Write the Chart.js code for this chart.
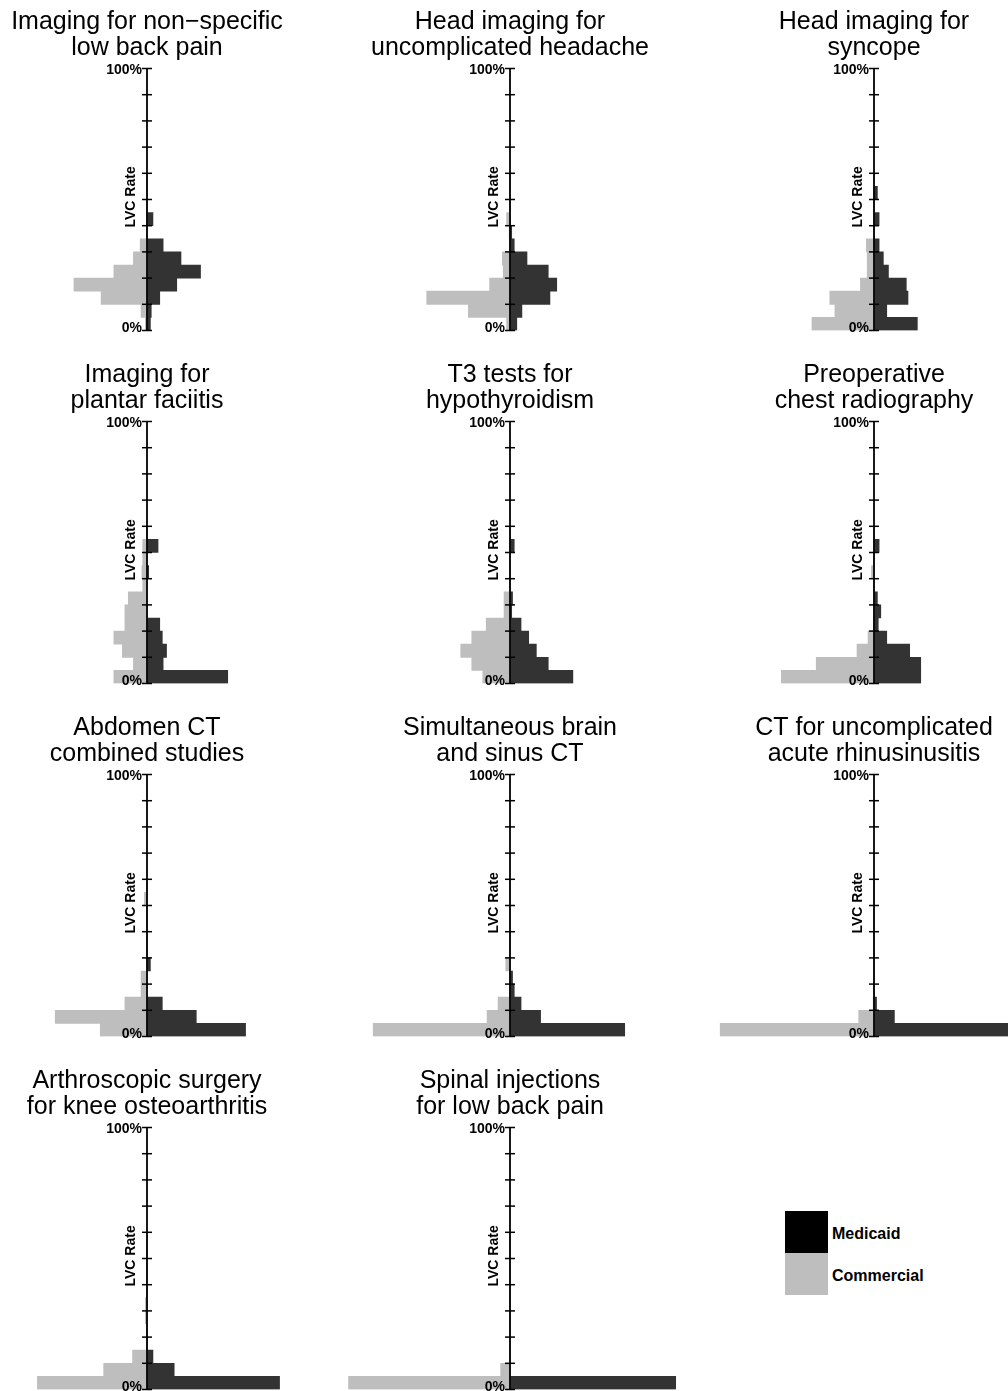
<!DOCTYPE html>
<html>
<head>
<meta charset="utf-8">
<script src="https://cdn.jsdelivr.net/npm/chart.js@4.4.1/dist/chart.umd.min.js"></script>
<style>
  html, body { margin: 0; padding: 0; background: #ffffff; }
  body { width: 1008px; height: 1391px; position: relative; overflow: hidden;
         font-family: 'Liberation Sans', Arial, sans-serif; }
  .panel { position: absolute; width: 362px; height: 350px; }
  .key { position: absolute; left: 785px; width: 43px; height: 42px; }
  .keylabel { position: absolute; left: 832px; font: bold 16px 'Liberation Sans', Arial, sans-serif;
              color: #000; line-height: 20px; white-space: nowrap; }
</style>
</head>
<body>
<div class="key" style="top:1211px;background:#000000;"></div>
<div class="key" style="top:1253px;background:#bebebe;"></div>
<div class="keylabel" style="top:1224px;">Medicaid</div>
<div class="keylabel" style="top:1266px;">Commercial</div>

<script>
// Lower edge of each 5% LVC-rate bin
const binFloor = [0, 5, 10, 15, 20, 25, 30, 35, 40, 45, 50, 55];
// Ticks on the LVC-rate axis
const rateTicks = [0, 10, 20, 30, 40, 50, 60, 70, 80, 90, 100];
const rateTickLabels = { 0: '0%', 100: '100%' };

// Share of providers (%) in each bin, Medicaid vs. Commercial
const lowBackImagingMedicaid   = [2, 2.5, 7.5, 17.5, 31.5, 20, 9.5, 0, 3.5];
const lowBackImagingCommercial = [1, 3.5, 27, 43, 19.5, 8, 4];
const headacheMedicaid         = [4, 7, 23.5, 27.5, 22.5, 10, 2.5, 1];
const headacheCommercial       = [2, 24.5, 49, 12, 4, 4.5, 0, 0.5, 2];
const syncopeMedicaid          = [25.5, 7.5, 20, 19, 8.5, 5.5, 3, 0, 3, 0, 2];
const syncopeCommercial        = [36.5, 23, 26, 8, 4, 4, 4.5];
const plantarMedicaid          = [47.5, 9.5, 11.5, 9, 7.5, 0, 0, 0, 1, 0, 6.5];
const plantarCommercial        = [19.5, 8, 14.5, 19.5, 13, 13, 11, 2.5, 3, 2.5, 2.5];
const t3Medicaid               = [37, 22.5, 15.5, 11, 6.5, 1, 1.5, 0, 0, 0, 2.5];
const t3Commercial             = [16, 22.5, 29, 22.5, 14, 3.5, 3.5];
const chestXrayMedicaid        = [27.5, 27.5, 21, 7.5, 2.5, 4, 2, 0, 0, 0, 3];
const chestXrayCommercial      = [54.5, 34, 10, 3.5, 0, 0, 0, 0, 1.5];
const abdomenCtMedicaid        = [58, 29, 9, 0, 0, 2];
const abdomenCtCommercial      = [27.5, 54, 13, 3.5, 3.5, 0, 0, 0, 0, 0, 1.5];
const brainSinusMedicaid       = [67.5, 18, 6.5, 2.5, 1.5];
const brainSinusCommercial     = [80.5, 13.5, 7, 0, 0, 2.5];
const sinusitisCtMedicaid      = [85.5, 12, 1.5];
const sinusitisCtCommercial    = [90.5, 9, 0.5];
const kneeScopeMedicaid        = [78, 16, 3.5];
const kneeScopeCommercial      = [64.5, 25.5, 8.5, 0, 0, 1, 1];
const spinalInjMedicaid        = [97.5];
const spinalInjCommercial      = [95, 5.5];

const panelTitles = [
  ['Imaging for non\u2212specific', 'low back pain'],
  ['Head imaging for', 'uncomplicated headache'],
  ['Head imaging for', 'syncope'],
  ['Imaging for', 'plantar faciitis'],
  ['T3 tests for', 'hypothyroidism'],
  ['Preoperative', 'chest radiography'],
  ['Abdomen CT', 'combined studies'],
  ['Simultaneous brain', 'and sinus CT'],
  ['CT for uncomplicated', 'acute rhinusinusitis'],
  ['Arthroscopic surgery', 'for knee osteoarthritis'],
  ['Spinal injections', 'for low back pain']
];
const panelMedicaid = [lowBackImagingMedicaid, headacheMedicaid, syncopeMedicaid, plantarMedicaid,
  t3Medicaid, chestXrayMedicaid, abdomenCtMedicaid, brainSinusMedicaid, sinusitisCtMedicaid,
  kneeScopeMedicaid, spinalInjMedicaid];
const panelCommercial = [lowBackImagingCommercial, headacheCommercial, syncopeCommercial, plantarCommercial,
  t3Commercial, chestXrayCommercial, abdomenCtCommercial, brainSinusCommercial, sinusitisCtCommercial,
  kneeScopeCommercial, spinalInjCommercial];

// Grid placement of the small multiples
const colLeft = [-34, 329, 693];
const rowTop = [0, 353, 706, 1059];
const FONT = "'Liberation Sans', Arial, sans-serif";

// Vertical rate axis drawn along x = 0, with crossing ticks
const lvcAxis = {
  id: 'lvcAxis',
  afterDatasetsDraw(chart) {
    const { ctx, scales: { x, y } } = chart;
    const x0 = x.getPixelForValue(0);
    ctx.save();
    ctx.strokeStyle = '#000';
    ctx.lineWidth = 1.8;
    ctx.beginPath();
    ctx.moveTo(x0, y.getPixelForValue(100));
    ctx.lineTo(x0, y.getPixelForValue(0));
    ctx.stroke();
    ctx.lineWidth = 1.5;
    rateTicks.forEach(v => {
      const py = y.getPixelForValue(v);
      ctx.beginPath();
      ctx.moveTo(x0 - 5, py);
      ctx.lineTo(x0 + 5, py);
      ctx.stroke();
    });
    ctx.fillStyle = '#000';
    ctx.font = 'bold 14px ' + FONT;
    ctx.textAlign = 'right';
    ctx.textBaseline = 'middle';
    ctx.fillText(rateTickLabels[100], x0 - 5, y.getPixelForValue(100) + 2);
    ctx.textBaseline = 'alphabetic';
    ctx.fillText(rateTickLabels[0], x0 - 5, y.getPixelForValue(0) + 1.5);
    ctx.translate(x0 - 16, y.getPixelForValue(51));
    ctx.rotate(-Math.PI / 2);
    ctx.textAlign = 'center';
    ctx.textBaseline = 'middle';
    ctx.font = 'bold 14px ' + FONT;
    ctx.fillText('LVC Rate', 0, 0);
    ctx.restore();
  }
};

panelTitles.forEach((title, i) => {
  const holder = document.createElement('div');
  holder.className = 'panel';
  holder.style.left = colLeft[i % 3] + 'px';
  holder.style.top = rowTop[Math.floor(i / 3)] + 'px';
  const canvas = document.createElement('canvas');
  holder.appendChild(canvas);
  document.body.appendChild(holder);

  const med = panelMedicaid[i];
  const com = panelCommercial[i];

  new Chart(canvas, {
    type: 'bar',
    data: {
      datasets: [
        {
          label: 'Commercial',
          data: binFloor.map((b, k) => ({ x: -(com[k] || 0), y: b + 2.5 })),
          backgroundColor: '#bebebe',
          borderWidth: 0,
          grouped: false,
          barPercentage: 1,
          categoryPercentage: 1
        },
        {
          label: 'Medicaid',
          data: binFloor.map((b, k) => ({ x: med[k] || 0, y: b + 2.5 })),
          backgroundColor: '#333333',
          borderWidth: 0,
          grouped: false,
          barPercentage: 1,
          categoryPercentage: 1
        }
      ]
    },
    options: {
      indexAxis: 'y',
      responsive: true,
      maintainAspectRatio: false,
      devicePixelRatio: 1,
      animation: false,
      layout: { padding: { top: 0, bottom: 19.5, left: 0, right: 0 } },
      scales: {
        x: { type: 'linear', min: -106.5, max: 106.5, display: false },
        y: { type: 'linear', min: 0, max: 100, offset: false, display: false }
      },
      plugins: {
        legend: { display: false },
        tooltip: { enabled: false },
        title: {
          display: true,
          text: title,
          color: '#000',
          font: { family: FONT, size: 25, weight: 'normal', lineHeight: 1.02 },
          padding: { top: 9.5, bottom: 8 }
        }
      }
    },
    plugins: [lvcAxis]
  });
});
</script>
</body>
</html>
